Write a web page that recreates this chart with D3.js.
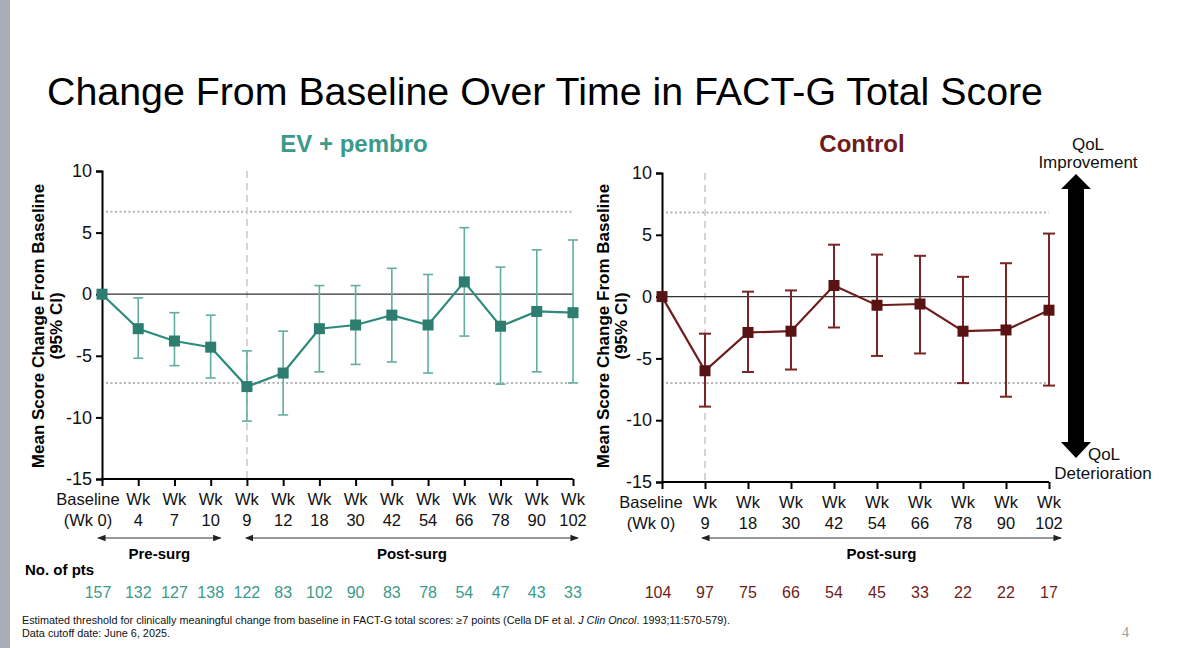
<!DOCTYPE html>
<html>
<head>
<meta charset="utf-8">
<script src="https://cdn.jsdelivr.net/npm/d3@7/dist/d3.min.js"></script>
<style>
  body { margin: 0; background: #fff; }
  svg { display: block; font-family: "Liberation Sans", Arial, sans-serif; }
  .axis path, .axis line { stroke: #000; stroke-width: 2; }
  .axis text { font-size: 18px; fill: #111; }
</style>
</head>
<body>
<svg width="1200" height="648"></svg>
<script>
// ---- data ----
var leftWeeks = ["Baseline", "Wk 4", "Wk 7", "Wk 10", "Wk 9", "Wk 12", "Wk 18", "Wk 30", "Wk 42", "Wk 54", "Wk 66", "Wk 78", "Wk 90", "Wk 102"];
var leftTop = ["Baseline", "Wk", "Wk", "Wk", "Wk", "Wk", "Wk", "Wk", "Wk", "Wk", "Wk", "Wk", "Wk", "Wk"];
var leftBottom = ["(Wk 0)", "4", "7", "10", "9", "12", "18", "30", "42", "54", "66", "78", "90", "102"];
var leftMean = [0, -2.8, -3.8, -4.3, -7.5, -6.4, -2.8, -2.5, -1.7, -2.5, 1.0, -2.6, -1.4, -1.5];
var leftLower = [0, -5.2, -5.8, -6.8, -10.3, -9.8, -6.3, -5.7, -5.5, -6.4, -3.4, -7.3, -6.3, -7.2];
var leftUpper = [0, -0.3, -1.5, -1.7, -4.6, -3.0, 0.7, 0.7, 2.1, 1.6, 5.4, 2.2, 3.6, 4.4];
var leftN = [157, 132, 127, 138, 122, 83, 102, 90, 83, 78, 54, 47, 43, 33];
var leftThreshold = [6.7, -7.2];

var rightWeeks = ["Baseline", "Wk 9", "Wk 18", "Wk 30", "Wk 42", "Wk 54", "Wk 66", "Wk 78", "Wk 90", "Wk 102"];
var rightTop = ["Baseline", "Wk", "Wk", "Wk", "Wk", "Wk", "Wk", "Wk", "Wk", "Wk"];
var rightBottom = ["(Wk 0)", "9", "18", "30", "42", "54", "66", "78", "90", "102"];
var rightMean = [0, -6.0, -2.9, -2.8, 0.9, -0.7, -0.6, -2.8, -2.7, -1.1];
var rightLower = [0, -8.9, -6.1, -5.9, -2.5, -4.8, -4.6, -7.0, -8.1, -7.2];
var rightUpper = [0, -3.0, 0.4, 0.5, 4.2, 3.4, 3.3, 1.6, 2.7, 5.1];
var rightN = [104, 97, 75, 66, 54, 45, 33, 22, 22, 17];
var rightThreshold = [6.8, -7.0];

var yTicks = [-15, -10, -5, 0, 5, 10];

let svg = d3.select("svg");

// grey strip on the slide edge
svg.append("rect").attr("x", 0).attr("y", 0).attr("width", 10).attr("height", 648).attr("fill", "#a9adb8");

svg.append("text")
  .attr("x", 47).attr("y", 105)
  .style("font-size", "38px")
  .attr("fill", "#000")
  .attr("textLength", 996).attr("lengthAdjust", "spacingAndGlyphs")
  .text("Change From Baseline Over Time in FACT-G Total Score");

// arrow marker for the pre/post surgery spans
let defs = svg.append("defs");
defs.append("marker").attr("id", "tip")
  .attr("viewBox", "0 0 10 10").attr("refX", 9).attr("refY", 5)
  .attr("markerWidth", 7).attr("markerHeight", 7).attr("orient", "auto-start-reverse")
  .append("path").attr("d", "M0,1 L10,5 L0,9 Z").attr("fill", "#222");

function drawPanel(opt) {
  let x = d3.scalePoint().domain(opt.weeks).range(opt.xRange);
  let y = d3.scaleLinear().domain([-15, 10]).range(opt.yRange);
  let g = svg.append("g");

  // subtitle
  g.append("text")
    .attr("x", opt.titleX).attr("y", 152)
    .attr("text-anchor", "middle")
    .style("font-size", "24px").style("font-weight", "bold")
    .attr("fill", opt.titleColor)
    .text(opt.title);

  // y axis title
  let yt = g.append("text")
    .attr("transform", "translate(" + opt.yTitleX + "," + 326 + ") rotate(-90)")
    .attr("text-anchor", "middle")
    .style("font-size", "17px").style("font-weight", "bold");
  yt.append("tspan").attr("x", 0).attr("dy", 0).text("Mean Score Change From Baseline");
  yt.append("tspan").attr("x", 0).attr("dy", 18).text("(95% CI)");

  // threshold lines (dotted)
  g.selectAll("line.thr").data(opt.threshold).enter().append("line")
    .attr("class", "thr")
    .attr("x1", opt.xRange[0] + 4).attr("x2", opt.xRange[1])
    .attr("y1", function(d) { return y(d); }).attr("y2", function(d) { return y(d); })
    .attr("stroke", "#b3b3b3").attr("stroke-width", 2).attr("stroke-dasharray", "2,2.5");

  // surgery line (dashed)
  g.append("line")
    .attr("x1", x("Wk 9")).attr("x2", x("Wk 9"))
    .attr("y1", opt.yRange[1]).attr("y2", opt.yRange[0])
    .attr("stroke", "#c8c8c8").attr("stroke-width", 1.5).attr("stroke-dasharray", "7,5");

  // zero line
  g.append("line")
    .attr("x1", opt.xRange[0]).attr("x2", opt.xRange[1])
    .attr("y1", y(0)).attr("y2", y(0))
    .attr("stroke", "#333").attr("stroke-width", 1.3);

  // axes
  let yAxis = d3.axisLeft(y).tickValues(yTicks).tickSize(6).tickPadding(4)
    .tickFormat(function(d) { return String(d); });
  g.append("g").attr("class", "axis")
    .attr("transform", "translate(" + opt.xRange[0] + ",0)")
    .call(yAxis);

  let xAxis = d3.axisBottom(x).tickSize(7).tickFormat("");
  let xg = g.append("g").attr("class", "axis")
    .attr("transform", "translate(0," + opt.yRange[0] + ")")
    .call(xAxis);
  xg.select(".domain").attr("d", "M" + opt.xRange[0] + ",0H" + opt.xRange[1]);

  // two line tick labels
  opt.weeks.forEach(function(w, i) {
    let shift = i === 0 ? opt.baseShift : 0;
    let t = g.append("text")
      .attr("text-anchor", "middle")
      .style("font-size", "16.5px").attr("fill", "#111");
    t.append("tspan").attr("x", x(w) + shift).attr("y", opt.yRange[0] + 26).text(opt.top[i]);
    t.append("tspan").attr("x", x(w) + shift).attr("y", opt.yRange[0] + 47).text(opt.bottom[i]);
  });

  // error bars
  let capW = opt.capW;
  let eb = g.selectAll("g.err").data(opt.weeks.slice(1)).enter().append("g").attr("class", "err");
  eb.append("line")
    .attr("x1", function(d) { return x(d); }).attr("x2", function(d) { return x(d); })
    .attr("y1", function(d, i) { return y(opt.upper[i + 1]); })
    .attr("y2", function(d, i) { return y(opt.lower[i + 1]); });
  eb.append("line")
    .attr("x1", function(d) { return x(d) - capW; }).attr("x2", function(d) { return x(d) + capW; })
    .attr("y1", function(d, i) { return y(opt.upper[i + 1]); })
    .attr("y2", function(d, i) { return y(opt.upper[i + 1]); });
  eb.append("line")
    .attr("x1", function(d) { return x(d) - capW; }).attr("x2", function(d) { return x(d) + capW; })
    .attr("y1", function(d, i) { return y(opt.lower[i + 1]); })
    .attr("y2", function(d, i) { return y(opt.lower[i + 1]); });
  eb.selectAll("line").attr("stroke", opt.errColor).attr("stroke-width", opt.errW);

  // mean line
  let line = d3.line()
    .x(function(d, i) { return x(opt.weeks[i]); })
    .y(function(d) { return y(d); });
  g.append("path").datum(opt.mean)
    .attr("d", line)
    .attr("fill", "none").attr("stroke", opt.lineColor).attr("stroke-width", 2.2);

  // square markers
  g.selectAll("rect.pt").data(opt.mean).enter().append("rect")
    .attr("class", "pt")
    .attr("x", function(d, i) { return x(opt.weeks[i]) - 5.5; })
    .attr("y", function(d) { return y(d) - 5.5; })
    .attr("width", 11).attr("height", 11)
    .attr("fill", opt.markColor);

  // surgery span arrows
  opt.spans.forEach(function(s) {
    g.append("line")
      .attr("x1", x(s.from) + s.d0).attr("x2", x(s.to) + s.d1)
      .attr("y1", 538).attr("y2", 538)
      .attr("stroke", "#333").attr("stroke-width", 1.2)
      .attr("marker-start", "url(#tip)").attr("marker-end", "url(#tip)");
    g.append("text")
      .attr("x", (x(s.from) + s.d0 + x(s.to) + s.d1) / 2).attr("y", 559)
      .attr("text-anchor", "middle")
      .style("font-size", "15px").style("font-weight", "bold")
      .text(s.label);
  });

  // patient counts
  g.selectAll("text.n").data(opt.n).enter().append("text")
    .attr("class", "n")
    .attr("x", function(d, i) { return x(opt.weeks[i]) + (i === 0 ? -4 : 0); })
    .attr("y", 598)
    .attr("text-anchor", "middle")
    .style("font-size", "16px")
    .attr("fill", opt.nColor)
    .text(function(d) { return d; });
}

drawPanel({
  weeks: leftWeeks, top: leftTop, bottom: leftBottom,
  mean: leftMean, lower: leftLower, upper: leftUpper, n: leftN, threshold: leftThreshold,
  xRange: [102, 573], yRange: [479, 171], baseShift: -14,
  title: "EV + pembro", titleX: 354, titleColor: "#3b9a8a", yTitleX: 44,
  lineColor: "#2e8b7c", markColor: "#2d7e70", errColor: "#62ada0", nColor: "#3b9a8a",
  capW: 5, errW: 1.6,
  spans: [
    { from: "Baseline", to: "Wk 10", d0: -4, d1: 10, label: "Pre-surg" },
    { from: "Wk 9", to: "Wk 102", d0: -1, d1: 5, label: "Post-surg" }
  ]
});

drawPanel({
  weeks: rightWeeks, top: rightTop, bottom: rightBottom,
  mean: rightMean, lower: rightLower, upper: rightUpper, n: rightN, threshold: rightThreshold,
  xRange: [662, 1049], yRange: [482, 173], baseShift: -11,
  title: "Control", titleX: 862, titleColor: "#6e1c1c", yTitleX: 609,
  lineColor: "#6e1c1c", markColor: "#5a1313", errColor: "#7a2424", nColor: "#6e1c1c",
  capW: 6, errW: 2,
  spans: [
    { from: "Wk 9", to: "Wk 102", d0: -3, d1: 12, label: "Post-surg" }
  ]
});

// QoL double arrow on the right
let ax = 1076;
svg.append("path")
  .attr("d", "M" + ax + ",174 L" + (ax + 15) + ",189 L" + (ax + 8) + ",189 L" + (ax + 8) + ",442 L" + (ax + 15) + ",442 L" + ax + ",458 L" + (ax - 15) + ",442 L" + (ax - 8) + ",442 L" + (ax - 8) + ",189 L" + (ax - 15) + ",189 Z")
  .attr("fill", "#000");

function qol(xc, y1, l1, l2) {
  let t = svg.append("text").attr("text-anchor", "middle").style("font-size", "17px").attr("fill", "#111");
  t.append("tspan").attr("x", xc).attr("y", y1).text(l1);
  t.append("tspan").attr("x", xc).attr("y", y1 + 18).text(l2);
}
qol(1088, 150, "QoL", "Improvement");
svg.append("text").attr("x", 1104).attr("y", 460).attr("text-anchor", "middle")
  .style("font-size", "17px").attr("fill", "#111").text("QoL");
svg.append("text").attr("x", 1103).attr("y", 479).attr("text-anchor", "middle")
  .style("font-size", "17px").attr("fill", "#111").text("Deterioration");

svg.append("text")
  .attr("x", 25).attr("y", 575)
  .style("font-size", "15px").style("font-weight", "bold")
  .text("No. of pts");

// footnotes
let foot = svg.append("text")
  .attr("x", 22).attr("y", 624)
  .style("font-family", "'Liberation Sans Narrow', 'Liberation Sans', Arial, sans-serif")
  .style("font-size", "10.5px").attr("fill", "#111")
  .attr("textLength", 708).attr("lengthAdjust", "spacingAndGlyphs");
foot.append("tspan").text("Estimated threshold for clinically meaningful change from baseline in FACT-G total scores: \u22657 points (Cella DF et al. ");
foot.append("tspan").style("font-style", "italic").text("J Clin Oncol");
foot.append("tspan").text(". 1993;11:570-579).");

svg.append("text")
  .attr("x", 22).attr("y", 637)
  .style("font-family", "'Liberation Sans Narrow', 'Liberation Sans', Arial, sans-serif")
  .style("font-size", "10.5px").attr("fill", "#111")
  .attr("textLength", 148).attr("lengthAdjust", "spacingAndGlyphs")
  .text("Data cutoff date: June 6, 2025.");

svg.append("text")
  .attr("x", 1122).attr("y", 637)
  .style("font-family", "'Liberation Serif', serif")
  .style("font-size", "14px").attr("fill", "#999")
  .text("4");
</script>
</body>
</html>
